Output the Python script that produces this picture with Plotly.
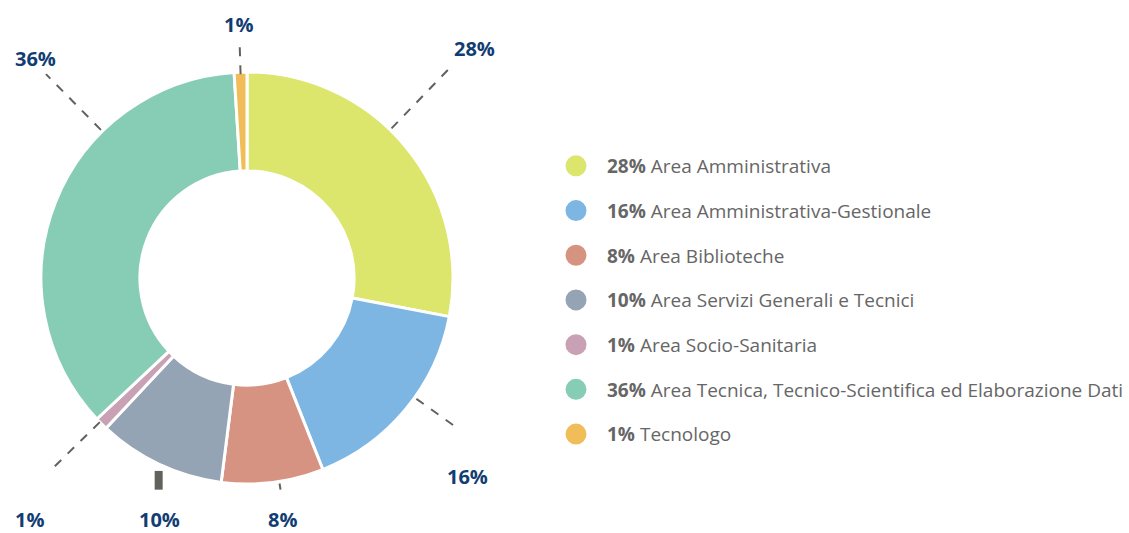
import math
import plotly.graph_objects as go

# ---- data ----
categories = [
    "Area Amministrativa",
    "Area Amministrativa-Gestionale",
    "Area Biblioteche",
    "Area Servizi Generali e Tecnici",
    "Area Socio-Sanitaria",
    "Area Tecnica, Tecnico-Scientifica ed Elaborazione Dati",
    "Tecnologo",
]
percent_values = [28, 16, 8, 10, 1, 36, 1]
percent_labels = [f"{v}%" for v in percent_values]

# ---- styles ----
colors = ["#dce56c", "#7db6e3", "#d69381", "#94a4b4", "#c9a1b5", "#87cdb6", "#f0bd58"]
W, H = 1129, 533
CX, CY, R = 247, 278, 206  # pie centre / radius in pixels
HOLE = 0.52

# leader-line / label placement per slice (angle clockwise from 12 o'clock,
# radii as fraction of outer radius)
label_layout = [
    dict(a=44.0, r0=1.01, r1=1.44, la=44.7, lr=1.57, w=2, vert=False),
    dict(a=125.5, r0=1.01, r1=1.25, la=132.0, lr=1.44, w=2, vert=False),
    dict(a=171.0, r0=1.01, r1=1.04, la=171.6, lr=1.183, w=2, vert=False),
    dict(a=204.6, r0=1.03, r1=1.13, la=200.0, lr=1.245, w=8, vert=True),
    dict(a=225.6, r0=1.00, r1=1.35, la=222.0, lr=1.575, w=2, vert=False),
    dict(a=315.4, r0=1.01, r1=1.39, la=316.0, lr=1.48, w=2, vert=False),
    dict(a=358.2, r0=0.99, r1=1.16, la=358.0, lr=1.23, w=2, vert=False),
]


def to_px(ang, rf):
    t = math.radians(ang)
    return CX + R * rf * math.sin(t), CY - R * rf * math.cos(t)


def paper(px, py):
    return px / W, 1 - py / H


fig = go.Figure()
fig.add_trace(
    go.Pie(
        labels=categories,
        values=percent_values,
        sort=False,
        direction="clockwise",
        rotation=0,
        hole=HOLE,
        textinfo="none",
        hoverinfo="label+percent",
        marker=dict(colors=colors, line=dict(color="white", width=3)),
        domain=dict(x=[(CX - R) / W, (CX + R) / W], y=[1 - (CY + R) / H, 1 - (CY - R) / H]),
        showlegend=False,
    )
)

# legend entries
for cat, val, col in zip(categories, percent_values, colors):
    fig.add_trace(
        go.Scatter(
            x=[None], y=[None], mode="markers",
            marker=dict(symbol="circle", size=16, color=col, line=dict(color=col, width=5)),
            name=f"<b>{val}%</b> {cat}",
            legendgroup=cat,
            showlegend=True,
        )
    )

shapes = []
annotations = []
for lab, lay in zip(percent_labels, label_layout):
    p0x, p0y = to_px(lay["a"], lay["r0"])
    p1x, p1y = to_px(lay["a"], lay["r1"])
    if lay["vert"]:
        p1x = p0x
    x0, y0 = paper(p0x, p0y)
    x1, y1 = paper(p1x, p1y)
    shapes.append(dict(type="line", xref="paper", yref="paper", x0=x0, y0=y0, x1=x1, y1=y1,
                       line=dict(color="#62625c", width=lay["w"],
                                 dash="solid" if lay["w"] > 4 else "dash")))
    lx, ly = paper(*to_px(lay["la"], lay["lr"]))
    annotations.append(dict(x=lx, y=ly, xref="paper", yref="paper", text=f"<b>{lab}</b>",
                            showarrow=False, xanchor="center", yanchor="middle", borderpad=0,
                            font=dict(family="Open Sans", size=20, color="#123d73")))

fig.update_layout(
    width=W, height=H,
    margin=dict(l=0, r=0, t=0, b=0),
    paper_bgcolor="white", plot_bgcolor="white",
    xaxis=dict(visible=False), yaxis=dict(visible=False),
    shapes=shapes, annotations=annotations,
    legend=dict(
        x=545 / W, y=1 - 147 / H, xanchor="left", yanchor="top",
        font=dict(family="Open Sans", size=19, color="#666666"),
        tracegroupgap=17, itemsizing="trace", itemwidth=52,
        bgcolor="rgba(0,0,0,0)",
    ),
)

fig.write_html("out.html", config={"displayModeBar": False},
               post_script="document.body.style.margin='0px';")
